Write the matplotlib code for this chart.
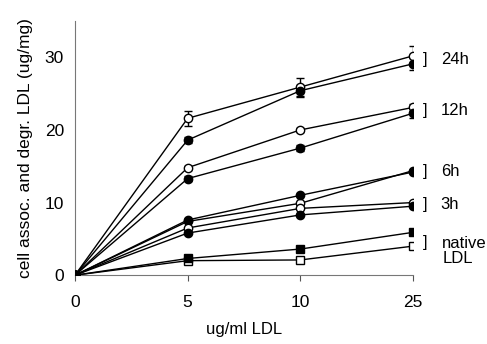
import numpy as np
import matplotlib
matplotlib.use("Agg")
import matplotlib.pyplot as plt

plt.rcParams['font.family'] = ['Liberation Sans', 'DejaVu Sans']

# x is categorical, equally spaced
doses = ['0', '5', '10', '25']

h24_open = [0, 21.6, 25.9, 30.2]
h24_open_err = [0, 1.0, 1.2, 1.3]
h24_fill = [0, 18.6, 25.4, 29.1]
h24_fill_err = [0, 0.4, 0.8, 0.8]

h12_open = [0, 14.8, 20.0, 23.1]
h12_open_err = [0, 0.3, 0.3, 0.5]
h12_fill = [0, 13.3, 17.5, 22.3]
h12_fill_err = [0, 0.3, 0.4, 0.6]

h6_open = [0, 7.4, 9.9, 14.4]
h6_fill = [0, 7.6, 11.0, 14.2]

h3_open = [0, 6.5, 9.2, 10.0]
h3_fill = [0, 5.8, 8.3, 9.5]

nat_open = [0, 2.0, 2.1, 4.0]
nat_fill = [0, 2.3, 3.6, 5.9]

group_labels = ['24h', '12h', '6h', '3h', 'native\nLDL']


def serie(ax, x, y, marker, filled, err=None):
    fc = 'black' if filled else 'white'
    if err is not None:
        ax.errorbar(x, y, yerr=err, color='black', lw=1.0, capsize=3,
                    elinewidth=1.0, marker=marker, ms=6, mfc=fc, mec='black',
                    zorder=3)
    else:
        ax.plot(x, y, color='black', lw=1.0, marker=marker, ms=6,
                mfc=fc, mec='black', zorder=3)


fig = plt.figure(figsize=(4.87, 3.44), dpi=100)
ax = fig.add_axes([0.154, 0.200, 0.694, 0.739])

x = np.arange(len(doses))

serie(ax, x, h24_open, 'o', False, h24_open_err)
serie(ax, x, h24_fill, 'o', True, h24_fill_err)
serie(ax, x, h12_open, 'o', False, h12_open_err)
serie(ax, x, h12_fill, 'o', True, h12_fill_err)
serie(ax, x, h6_open, 'o', False)
serie(ax, x, h6_fill, 'o', True)
serie(ax, x, h3_open, 'o', False)
serie(ax, x, h3_fill, 'o', True)
serie(ax, x, nat_open, 's', False)
serie(ax, x, nat_fill, 's', True)

# brackets and labels on the right, placed from the last values
pares = [(h24_open, h24_fill), (h12_open, h12_fill), (h6_open, h6_fill),
         (h3_open, h3_fill), (nat_open, nat_fill)]
for (a, b), lab in zip(pares, group_labels):
    ymid = (a[-1] + b[-1]) / 2
    if lab.startswith('native'):
        ymid = a[-1] + 0.5
    ax.annotate(']', xy=(x[-1], ymid), xytext=(7, 0), textcoords='offset points',
                ha='left', va='center', fontsize=12, annotation_clip=False)
    if lab.startswith('native'):
        ax.annotate(lab, xy=(x[-1], ymid), xytext=(21, 5), textcoords='offset points',
                    ha='left', va='top', fontsize=12, linespacing=1.05,
                    annotation_clip=False)
        continue
    ax.annotate(lab, xy=(x[-1], ymid), xytext=(20, 0), textcoords='offset points',
                ha='left', va='center', fontsize=12, annotation_clip=False)

ax.set_xlim(0, 3)
ax.set_ylim(0, 35)
ax.set_xticks(x)
ax.set_xticklabels(doses)
ax.set_yticks([0, 10, 20, 30])
ax.tick_params(axis='x', direction='out', length=4, width=0.8, labelsize=12.5, pad=10,
               color='#555555')
ax.tick_params(axis='y', length=0, labelsize=12.5, pad=8)

for s in ['top', 'right']:
    ax.spines[s].set_visible(False)
for s in ['left', 'bottom']:
    ax.spines[s].set_color('#777777')
    ax.spines[s].set_linewidth(0.8)

ax.set_xlabel('ug/ml LDL', fontsize=12, labelpad=9)
ax.set_ylabel('cell assoc. and degr. LDL (ug/mg)', fontsize=12.5, labelpad=8)

fig.savefig('out.png', dpi=100)
